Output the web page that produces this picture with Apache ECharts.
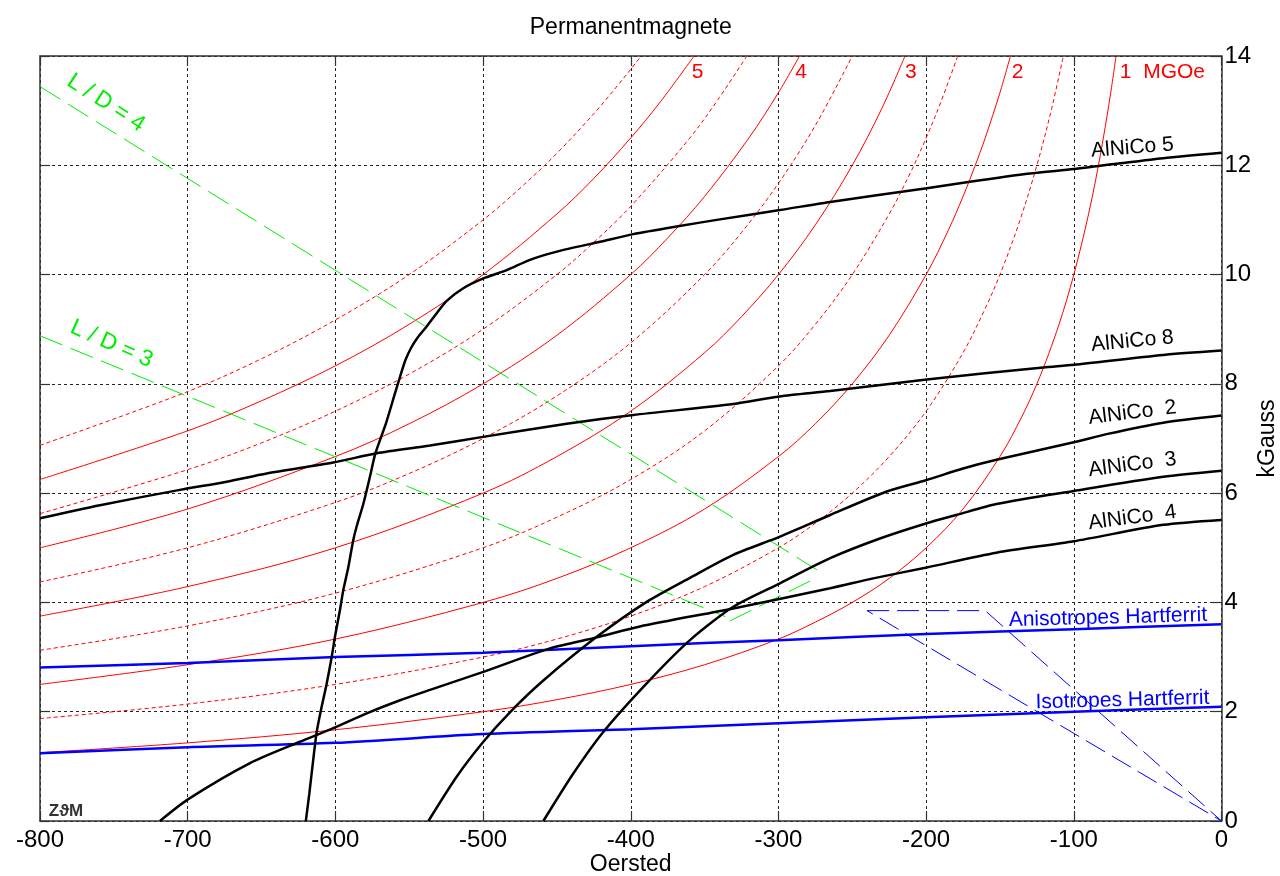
<!DOCTYPE html>
<html>
<head>
<meta charset="utf-8">
<script src="https://cdn.jsdelivr.net/npm/echarts@6/dist/echarts.min.js"></script>
<style>html,body{margin:0;padding:0;background:#fff}#c{width:1280px;height:876px}</style>
</head>
<body>
<div id="c"></div>
<script>
// ---------------- DATA ----------------
const xTickValues = [-800, -700, -600, -500, -400, -300, -200, -100, 0];   // Oersted
const yTickValues = [0, 2, 4, 6, 8, 10, 12, 14];                           // kGauss

// AlNiCo demagnetisation curves  [H (Oe), B (kG)]
const alnico5 = [[-620,0],[-617.6,0.51],[-615,1.12],[-612.7,1.62],[-610,2.0],[-606,2.5],[-602.5,3.0],[-600.3,3.37],[-596.9,3.86],[-594.6,4.23],[-591.2,4.65],[-587.9,5.14],[-585.6,5.39],[-581,5.81],[-576.6,6.3],[-573.2,6.7],[-569.8,6.97],[-565.7,7.28],[-559.6,7.83],[-556.2,8.13],[-552.5,8.44],[-548.5,8.67],[-544.5,8.84],[-538.2,9.05],[-533.2,9.23],[-524.6,9.52],[-513.4,9.75],[-499.8,9.93],[-484,10.08],[-468.2,10.27],[-450,10.42],[-420.8,10.6],[-398.3,10.74],[-369,10.88],[-339.6,11.01],[-299,11.18],[-265,11.33],[-199.6,11.58],[-170.3,11.7],[-129.7,11.85],[-100,11.93],[-82.3,11.99],[-39.4,12.13],[0,12.23]];
const alnico8 = [[-800,5.54],[-759.4,5.78],[-705.2,6.06],[-673.6,6.21],[-646.5,6.36],[-601.4,6.56],[-572,6.73],[-535.9,6.87],[-500,7.03],[-443.4,7.27],[-398.3,7.43],[-330.6,7.63],[-299.4,7.77],[-265,7.87],[-199.6,8.08],[-120.7,8.3],[-100,8.35],[-39.4,8.53],[0,8.61]];
const alnico2 = [[-537,0],[-517.9,0.81],[-499.8,1.45],[-481.8,1.99],[-459.2,2.57],[-423,3.37],[-389.2,4.01],[-359.9,4.45],[-330.6,4.87],[-299.4,5.2],[-265,5.6],[-226.7,6.03],[-199.6,6.24],[-175,6.45],[-152.4,6.61],[-100,6.93],[-77.9,7.08],[-39.4,7.29],[0,7.42]];
const alnico3 = [[-459.2,0],[-438.9,0.87],[-418.6,1.63],[-389.2,2.52],[-359.9,3.31],[-330.6,3.92],[-299,4.35],[-265,4.81],[-231.3,5.17],[-199.6,5.45],[-179.5,5.6],[-152.4,5.8],[-100,6.04],[-39.4,6.3],[0,6.41]];
const alnico4 = [[-718.8,0],[-699.6,0.4],[-657.8,1.06],[-624,1.45],[-601.4,1.7],[-578.8,1.97],[-556.2,2.21],[-535.9,2.4],[-499.8,2.73],[-454.7,3.16],[-423,3.36],[-393.8,3.56],[-330.6,3.89],[-265,4.26],[-235.8,4.44],[-199.6,4.64],[-152.4,4.91],[-100,5.12],[-39.4,5.42],[0,5.51]];

// Hard ferrites
const anisoFerrit = [[-800,2.81],[-700,2.89],[-600,3.0],[-500,3.08],[-400,3.2],[-300,3.31],[-200,3.42],[-100,3.51],[0,3.6]];
const isoFerrit   = [[-800,1.24],[-700,1.35],[-600,1.43],[-500,1.59],[-400,1.68],[-300,1.79],[-200,1.9],[-100,2.0],[0,2.09]];
const ferritCallout = [[-240,3.85],[-160,3.85],[0,0],[-240,3.85]];

// Load lines
const loadLD4 = [[-800,13.44],[-270,4.53]];
const loadLD3 = [[-800,8.88],[-336,3.74]];
const loadLink = [[-333,3.66],[-275,4.44]];

// Energy-product curves (MGOe), solid
const bh1   = [[-800,1.25],[-700,1.43],[-600,1.67],[-500,2.0],[-450,2.22],[-400,2.5],[-350,2.86],[-300,3.33],[-275,3.64],[-250,4.0],[-225,4.44],[-200,5.0],[-175,5.71],[-150,6.67],[-135,7.41],[-125,8.0],[-117,8.55],[-110,9.09],[-105,9.52],[-100,10.0],[-95,10.53],[-90,11.11],[-85,11.76],[-80,12.5],[-75,13.33],[-71.4,14]];
const bh2   = [[-800,2.5],[-700,2.86],[-600,3.33],[-500,4.0],[-450,4.44],[-400,5.0],[-350,5.71],[-300,6.67],[-275,7.27],[-250,8.0],[-225,8.89],[-200,10.0],[-185,10.81],[-175,11.43],[-167,11.98],[-160,12.5],[-150,13.33],[-142.9,14]];
const bh3   = [[-800,3.75],[-700,4.29],[-600,5.0],[-500,6.0],[-450,6.67],[-400,7.5],[-350,8.57],[-325,9.23],[-300,10.0],[-275,10.91],[-250,12.0],[-230,13.04],[-214.3,14]];
const bh4   = [[-800,5.0],[-700,5.71],[-600,6.67],[-550,7.27],[-500,8.0],[-450,8.89],[-400,10.0],[-375,10.67],[-350,11.43],[-320,12.5],[-300,13.33],[-285.7,14]];
const bh5   = [[-800,6.25],[-700,7.14],[-650,7.69],[-600,8.33],[-550,9.09],[-500,10.0],[-450,11.11],[-425,11.76],[-400,12.5],[-380,13.16],[-357.1,14]];
// dotted intermediate curves
const bh1_5 = [[-800,1.875],[-700,2.14],[-600,2.5],[-500,3.0],[-450,3.33],[-400,3.75],[-350,4.29],[-300,5.0],[-275,5.45],[-250,6.0],[-225,6.67],[-200,7.5],[-175,8.57],[-160,9.38],[-150,10.0],[-137,10.95],[-125,12.0],[-115,13.04],[-107.1,14]];
const bh2_5 = [[-800,3.125],[-700,3.57],[-600,4.17],[-500,5.0],[-450,5.56],[-400,6.25],[-350,7.14],[-300,8.33],[-275,9.09],[-250,10.0],[-225,11.11],[-210,11.9],[-200,12.5],[-190,13.16],[-178.6,14]];
const bh3_5 = [[-800,4.375],[-700,5.0],[-600,5.83],[-550,6.36],[-500,7.0],[-450,7.78],[-400,8.75],[-350,10.0],[-325,10.77],[-300,11.67],[-275,12.73],[-250,14]];
const bh4_5 = [[-800,5.625],[-700,6.43],[-650,6.92],[-600,7.5],[-550,8.18],[-500,9.0],[-450,10.0],[-425,10.59],[-400,11.25],[-360,12.5],[-340,13.24],[-321.4,14]];
const bh5_5 = [[-800,6.875],[-700,7.86],[-650,8.46],[-600,9.17],[-550,10.0],[-500,11.0],[-475,11.58],[-450,12.22],[-420,13.1],[-392.9,14]];

// ---------------- CHART ----------------
const FONT = '"Liberation Sans", Arial, Helvetica, sans-serif';
const RED = '#ff0000', BLUE = '#0000ff', GREEN = '#00ee00', BLACK = '#000000';
const chart = echarts.init(document.getElementById('c'), null, {renderer: 'canvas'});

const xMin = xTickValues[0], xMax = xTickValues[xTickValues.length - 1], xStep = xTickValues[1] - xTickValues[0];
const yMin = yTickValues[0], yMax = yTickValues[yTickValues.length - 1], yStep = yTickValues[1] - yTickValues[0];

const frame = {color: '#333', width: 1.5};
const gridLine = {show: true, lineStyle: {color: '#222', type: [3, 3], width: 1}};
const tick = {show: true, inside: true, length: 10, lineStyle: {color: '#333', width: 1.2}};

function line(data, color, width, type, z, smooth) {
  return {type: 'line', data: data, symbol: 'none', silent: true, clip: true, smooth: smooth || false,
    lineStyle: {color: color, width: width, type: type || 'solid'}, z: z || 2};
}

const series = [];
[bh1_5, bh2_5, bh3_5, bh4_5, bh5_5].forEach(d => series.push(line(d, RED, 1, [4, 3], 2, 0.35)));
[bh1, bh2, bh3, bh4, bh5].forEach(d => series.push(line(d, RED, 1, 'solid', 2, 0.35)));
[loadLD4, loadLD3, loadLink].forEach(d => series.push(line(d, GREEN, 1, [24, 9], 3)));
series.push(line(ferritCallout, BLUE, 1, [22, 8], 3));
series.push(line(anisoFerrit, BLUE, 2.5, 'solid', 4, 0.3));
series.push(line(isoFerrit, BLUE, 2.5, 'solid', 4, 0.3));
[alnico5, alnico8, alnico2, alnico3, alnico4].forEach(d => series.push(line(d, BLACK, 2.5, 'solid', 5, 0.25)));

const option = {
  animation: false,
  backgroundColor: '#ffffff',
  grid: {left: 40, right: 58.5, top: 56, bottom: 55, containLabel: false},
  xAxis: [
    {type: 'value', min: xMin, max: xMax, interval: xStep, position: 'bottom',
      axisLine: {show: true, onZero: false, lineStyle: frame}, axisTick: tick,
      axisLabel: {fontSize: 24, color: '#000', fontFamily: FONT, margin: 7, showMinLabel: true, showMaxLabel: true},
      splitLine: gridLine},
    {type: 'value', min: xMin, max: xMax, interval: xStep, position: 'top',
      axisLine: {show: true, onZero: false, lineStyle: frame}, axisTick: tick,
      axisLabel: {show: false}, splitLine: {show: false}}
  ],
  yAxis: [
    {type: 'value', min: yMin, max: yMax, interval: yStep, position: 'right',
      axisLine: {show: true, onZero: false, lineStyle: frame}, axisTick: tick,
      axisLabel: {fontSize: 24, color: '#000', fontFamily: FONT, margin: 3, showMinLabel: true, showMaxLabel: true},
      splitLine: gridLine},
    {type: 'value', min: yMin, max: yMax, interval: yStep, position: 'left',
      axisLine: {show: true, onZero: false, lineStyle: frame}, axisTick: tick,
      axisLabel: {show: false}, splitLine: {show: false}}
  ],
  series: series
};
chart.setOption(option);

// ---------------- TEXT ANNOTATIONS ----------------
const annotations = [
  {text: '5', at: [-354.8, 13.7], color: RED, size: 21},
  {text: '4', at: [-284.7, 13.7], color: RED, size: 21},
  {text: '3', at: [-210.3, 13.7], color: RED, size: 21},
  {text: '2', at: [-138.1, 13.7], color: RED, size: 21},
  {text: '1  MGOe', at: [-40.0, 13.7], color: RED, size: 21},
  {text: 'AlNiCo 5', at: [-60.3, 12.32], color: BLACK, size: 21, rot: 4.5},
  {text: 'AlNiCo 8', at: [-60.3, 8.78], color: BLACK, size: 21, rot: 5.5},
  {text: 'AlNiCo  2', at: [-60.3, 7.47], color: BLACK, size: 21, rot: 7},
  {text: 'AlNiCo  3', at: [-60.3, 6.52], color: BLACK, size: 21, rot: 7.4},
  {text: 'AlNiCo  4', at: [-60.3, 5.55], color: BLACK, size: 21, rot: 7.4},
  {text: 'Anisotropes Hartferrit', at: [-76.9, 3.72], color: BLUE, size: 21, rot: 1.5},
  {text: 'Isotropes Hartferrit', at: [-67.0, 2.21], color: BLUE, size: 21, rot: 1.5},
  {text: 'L / D = 4', at: [-755.3, 13.14], color: GREEN, size: 23, rot: -33},
  {text: 'L / D = 3', at: [-751.5, 8.73], color: GREEN, size: 23, rot: -24}
];
const gx0 = 40, gx1 = 1280 - 58.5, gy0 = 56, gy1 = 876 - 55;
const graphics = annotations.map(a => {
  const p = chart.convertToPixel({xAxisIndex: 0, yAxisIndex: 0}, a.at);
  return {type: 'text', x: p[0], y: p[1], rotation: (a.rot || 0) * Math.PI / 180, silent: true, z: 100,
    style: {text: a.text, fill: a.color, font: a.size + 'px ' + FONT, align: 'center', verticalAlign: 'middle'}};
});
graphics.push({type: 'text', x: (gx0 + gx1) / 2, y: 28, silent: true, z: 100,
  style: {text: 'Permanentmagnete', fill: '#000', font: '23px ' + FONT, align: 'center', verticalAlign: 'middle'}});
graphics.push({type: 'text', x: (gx0 + gx1) / 2, y: 865, silent: true, z: 100,
  style: {text: 'Oersted', fill: '#000', font: '23px ' + FONT, align: 'center', verticalAlign: 'middle'}});
graphics.push({type: 'text', x: 1268, y: (gy0 + gy1) / 2, rotation: Math.PI / 2, silent: true, z: 100,
  style: {text: 'kGauss', fill: '#000', font: '23px ' + FONT, align: 'center', verticalAlign: 'middle'}});
graphics.push({type: 'text', x: gx0 + 26, y: gy1 - 10, silent: true, z: 100,
  style: {text: 'ZϑM', fill: '#333', font: 'bold 17px ' + FONT, align: 'center', verticalAlign: 'middle'}});
chart.setOption({graphic: graphics});
</script>
</body>
</html>
